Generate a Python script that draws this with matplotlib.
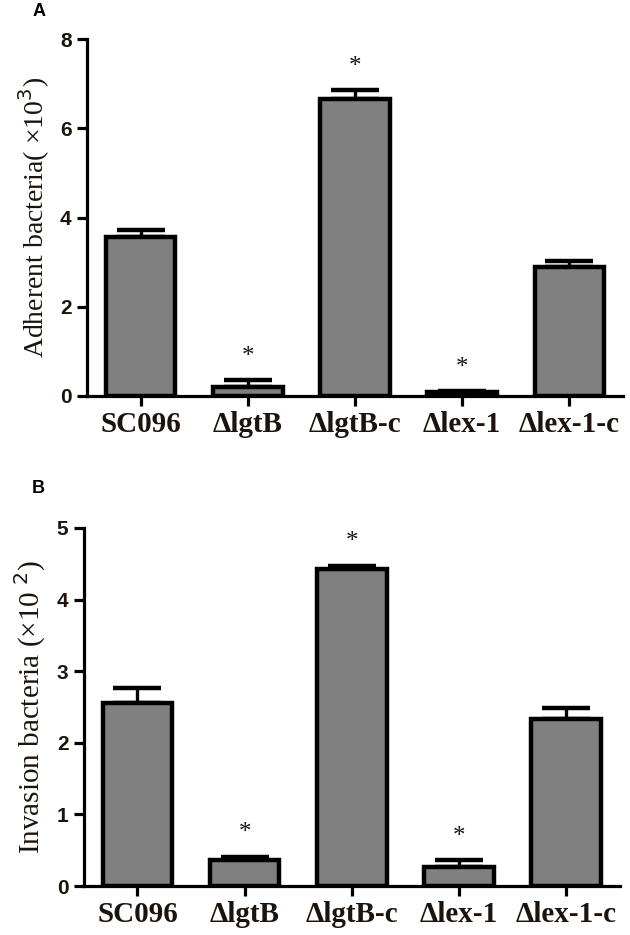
import matplotlib
matplotlib.use("Agg")
import matplotlib.pyplot as plt
import numpy as np

# strains on the x axis
strains = ["SC096", "ΔlgtB", "ΔlgtB-c", "Δlex-1", "Δlex-1-c"]

# panel A: adherent bacteria (x10^3)
adh_mean = [3.56, 0.20, 6.66, 0.08, 2.89]
adh_err = [0.16, 0.15, 0.20, 0.03, 0.14]
adh_sig = [False, True, True, True, False]
adh_ticks = [0, 2, 4, 6, 8]

# panel B: invasion bacteria (x10^2)
inv_mean = [2.56, 0.36, 4.43, 0.27, 2.33]
inv_err = [0.21, 0.05, 0.04, 0.09, 0.16]
inv_sig = [False, True, True, True, False]
inv_ticks = [0, 1, 2, 3, 4, 5]

serif = ["Liberation Serif", "DejaVu Serif"]
sans = ["Liberation Sans", "DejaVu Sans"]
ink = "#1c140c"

fig = plt.figure(figsize=(6.3, 9.35), dpi=100)
ax_a = fig.add_axes([0.138, 0.5765, 0.851, 0.3815])
ax_b = fig.add_axes([0.133, 0.0524, 0.851, 0.3829])


def draw_panel(ax, mean, err, sig, ticks, ylabel, lsize):
    x = np.arange(len(strains))
    ax.bar(x, mean, width=0.65, color="#808080", edgecolor="black",
           linewidth=3.2, zorder=2)
    ax.errorbar(x, mean, yerr=[np.zeros(len(mean)), err], fmt="none",
                ecolor="black", elinewidth=2.4, capsize=17, capthick=3.2,
                zorder=1)
    for i in range(len(x)):
        if sig[i]:
            ax.annotate("*", (x[i], mean[i] + err[i]), xytext=(0, 9),
                        textcoords="offset points", ha="center", va="bottom",
                        fontsize=18, family=serif, color=ink)
    ax.set_xlim(-0.5, len(strains) - 0.5)
    ax.set_ylim(0, ticks[-1])
    ax.set_xticks(x)
    ax.set_xticklabels(strains, family=serif, fontweight="bold",
                       fontsize=21, color=ink)
    ax.set_yticks(ticks)
    ax.set_yticklabels([str(t) for t in ticks], family=sans,
                       fontweight="bold", fontsize=15, color=ink)
    ax.set_ylabel(ylabel, family=serif, fontsize=lsize, color=ink,
                  labelpad=6)
    for s in ["top", "right"]:
        ax.spines[s].set_visible(False)
    for s in ["left", "bottom"]:
        ax.spines[s].set_linewidth(2.3)
    ax.tick_params(axis="both", direction="out", length=7, width=2.3,
                   pad=4)


draw_panel(ax_a, adh_mean, adh_err, adh_sig, adh_ticks,
           "Adherent bacteria( ×10$^{3}$)", 20)
draw_panel(ax_b, inv_mean, inv_err, inv_sig, inv_ticks,
           "Invasion bacteria (×10 $^{2}$)", 21)

fig.text(39 / 630, 1 - 12 / 935, "A", family=sans, fontweight="bold",
         fontsize=13, ha="center", va="center")
fig.text(38 / 630, 1 - 488 / 935, "B", family=sans, fontweight="bold",
         fontsize=13, ha="center", va="center")

fig.savefig("out.png", dpi=100)
